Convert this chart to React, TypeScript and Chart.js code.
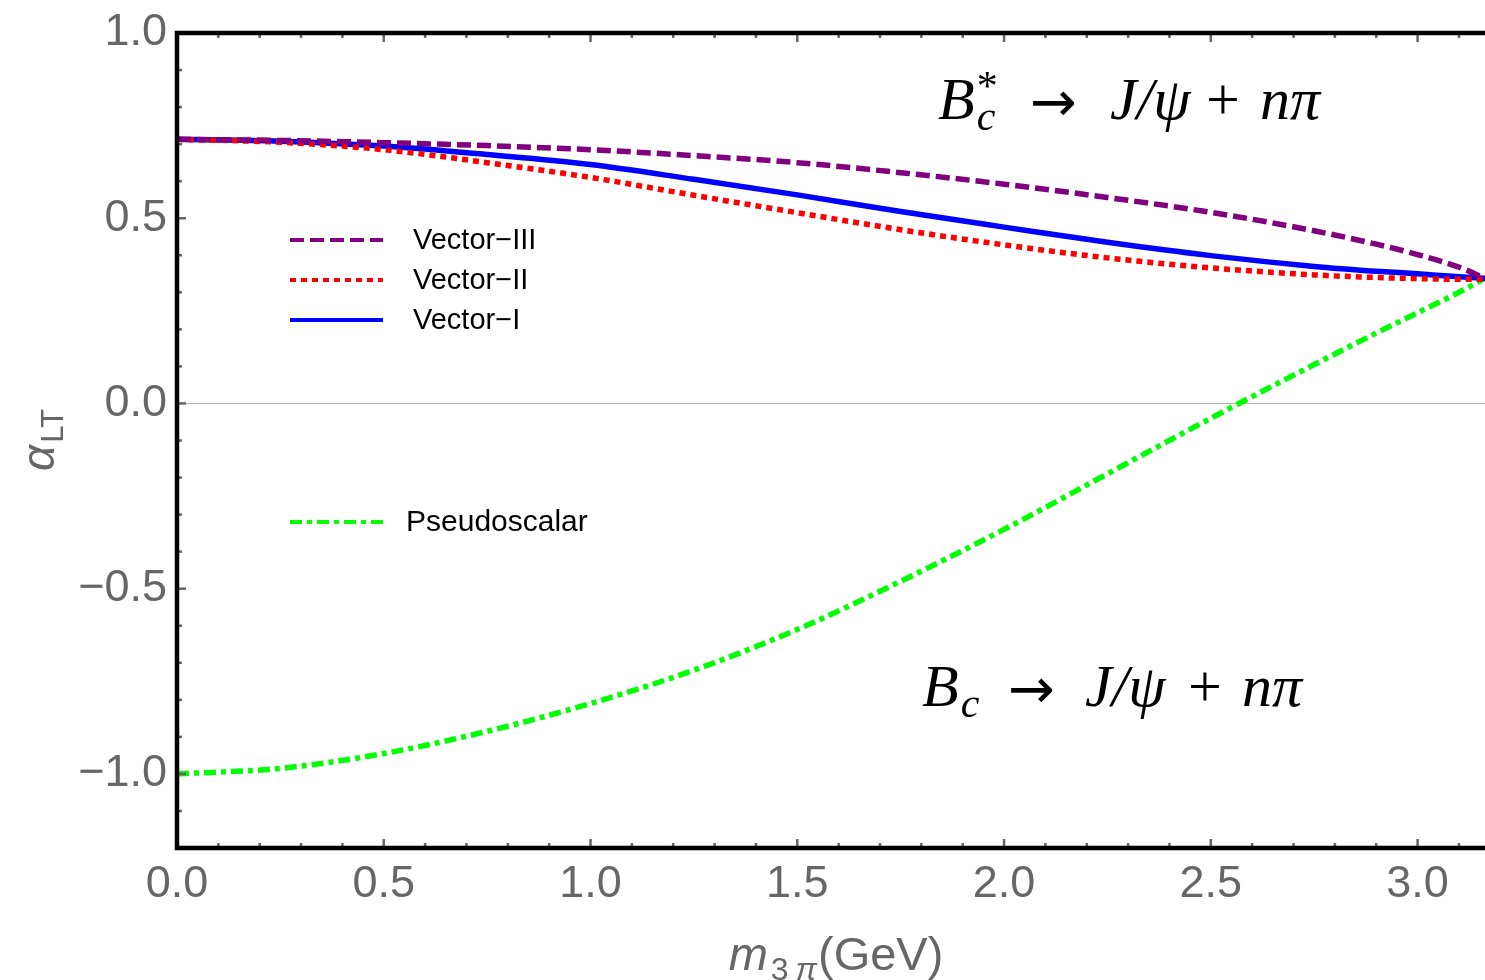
import React, { useEffect, useRef } from 'react';
import { Chart, registerables } from 'chart.js';

Chart.register(...registerables);

// ---------- data ----------
const xValues = [0, 0.25, 0.5, 0.75, 1.0, 1.25, 1.5, 1.75, 2.0, 2.25, 2.5, 2.75, 2.9, 3.0, 3.1, 3.163];
const vectorIII = [0.713, 0.710, 0.704, 0.696, 0.685, 0.669, 0.650, 0.623, 0.592, 0.556, 0.516, 0.466, 0.430, 0.402, 0.368, 0.338];
const vectorII = [0.713, 0.705, 0.685, 0.650, 0.610, 0.562, 0.515, 0.469, 0.428, 0.393, 0.366, 0.347, 0.340, 0.337, 0.335, 0.335];
const vectorI = [0.713, 0.708, 0.695, 0.672, 0.645, 0.605, 0.563, 0.518, 0.476, 0.435, 0.399, 0.370, 0.357, 0.350, 0.342, 0.338];
const pseudoscalar = [-1.0, -0.985, -0.945, -0.885, -0.81, -0.72, -0.61, -0.48, -0.34, -0.19, -0.04, 0.105, 0.190, 0.245, 0.300, 0.338];

const seriesNames = ['Vector\u2212III', 'Vector\u2212II', 'Vector\u2212I', 'Pseudoscalar'];
const xTicks = [0, 0.5, 1.0, 1.5, 2.0, 2.5, 3.0];
const yTicks = [-1.0, -0.5, 0, 0.5, 1.0];
const xMin = 0;
const xMax = 3.163;
const yMin = -1.2;
const yMax = 1.0;

const GRAY = '#666666';
const SANS = '"Liberation Sans", Arial, sans-serif';
const SERIF = '"Liberation Serif", "DejaVu Serif", serif';

type Part = { t: string; f: string; dy?: number; gap?: number; at?: number; same?: boolean };

function layoutParts(ctx: CanvasRenderingContext2D, parts: Part[]) {
  let cursor = 0;
  let lastX = 0;
  const placed: { p: Part; x: number }[] = [];
  for (const p of parts) {
    ctx.font = p.f;
    const w = ctx.measureText(p.t).width;
    const x = p.same ? lastX : p.at !== undefined ? p.at : cursor + (p.gap || 0);
    placed.push({ p, x });
    lastX = x;
    cursor = Math.max(cursor, x + w);
  }
  return { placed, width: cursor };
}

function drawParts(ctx: CanvasRenderingContext2D, parts: Part[], x: number, y: number, color: string, align: 'left' | 'center' = 'left') {
  const { placed, width } = layoutParts(ctx, parts);
  const x0 = align === 'center' ? x - width / 2 : x;
  ctx.fillStyle = color;
  ctx.textAlign = 'left';
  ctx.textBaseline = 'alphabetic';
  for (const { p, x: px } of placed) {
    ctx.font = p.f;
    ctx.fillText(p.t, x0 + px, y + (p.dy || 0));
  }
}

const decorPlugin = {
  id: 'decor',
  afterDatasetsDraw(chart: any) {
    const { ctx, chartArea: ca, scales } = chart;
    const xs = scales.x;
    const ys = scales.y;
    ctx.save();

    // inner tick marks
    ctx.strokeStyle = GRAY;
    ctx.lineWidth = 2.5;
    ctx.lineCap = 'butt';
    for (let i = 0; i <= Math.floor(xMax * 10); i++) {
      const px = xs.getPixelForValue(i / 10);
      const len = i % 5 === 0 ? 9 : 5;
      ctx.beginPath();
      ctx.moveTo(px, ca.bottom);
      ctx.lineTo(px, ca.bottom - len);
      ctx.moveTo(px, ca.top);
      ctx.lineTo(px, ca.top + len);
      ctx.stroke();
    }
    for (let i = Math.ceil(yMin * 10); i <= Math.floor(yMax * 10); i++) {
      const py = ys.getPixelForValue(i / 10);
      const len = i % 5 === 0 ? 9 : 5;
      ctx.beginPath();
      ctx.moveTo(ca.left, py);
      ctx.lineTo(ca.left + len, py);
      ctx.stroke();
    }

    // frame
    ctx.strokeStyle = '#000';
    ctx.lineWidth = 4.5;
    ctx.beginPath();
    ctx.moveTo(ca.right + 2, ca.top);
    ctx.lineTo(ca.left, ca.top);
    ctx.lineTo(ca.left, ca.bottom);
    ctx.lineTo(ca.right + 2, ca.bottom);
    ctx.stroke();

    // legend
    const legendRows = [
      { y: 240, tx: 413, size: 29 },
      { y: 280, tx: 413, size: 29 },
      { y: 320, tx: 413, size: 29 },
      { y: 522, tx: 406, size: 30 },
    ];
    chart.data.datasets.forEach((ds: any, i: number) => {
      const r = legendRows[i];
      ctx.save();
      ctx.strokeStyle = ds.borderColor;
      ctx.lineWidth = 4;
      ctx.lineCap = 'butt';
      ctx.setLineDash(ds.borderDash || []);
      ctx.beginPath();
      ctx.moveTo(290, r.y);
      ctx.lineTo(383, r.y);
      ctx.stroke();
      ctx.restore();
      ctx.fillStyle = '#000';
      ctx.font = `${r.size}px ${SANS}`;
      ctx.textAlign = 'left';
      ctx.textBaseline = 'middle';
      ctx.fillText(ds.label, r.tx, r.y + 1);
    });

    // annotations
    const S = 60;
    const it = (s: number) => `italic ${s}px ${SERIF}`;
    const rm = (s: number) => `${s}px ${SERIF}`;
    const arrow = `56px "DejaVu Sans", sans-serif`;
    drawParts(ctx, [
      { t: 'B', f: it(S), at: 0 },
      { t: 'c', f: it(42), dy: 11, gap: 2 },
      { t: '*', f: rm(42), dy: -19, same: true },
      { t: '\u2192', f: arrow, at: 92, dy: 2 },
      { t: 'J/\u03c8', f: it(S), at: 172 },
      { t: '+', f: rm(S), at: 268 },
      { t: 'n\u03c0', f: it(S), at: 322 },
    ], 938, 119, '#000');
    drawParts(ctx, [
      { t: 'B', f: it(S), at: 0 },
      { t: 'c', f: it(42), dy: 11, gap: 2 },
      { t: '\u2192', f: arrow, at: 86, dy: 2 },
      { t: 'J/\u03c8', f: it(S), at: 163 },
      { t: '+', f: rm(S), at: 266 },
      { t: 'n\u03c0', f: it(S), at: 320 },
    ], 922, 706, '#000');

    // axis titles
    ctx.save();
    ctx.translate(54, 440);
    ctx.rotate(-Math.PI / 2);
    drawParts(ctx, [
      { t: '\u03b1', f: `italic 46px ${SANS}` },
      { t: 'LT', f: `31px ${SANS}`, dy: 9, gap: 2 },
    ], 0, 0, GRAY, 'center');
    ctx.restore();

    drawParts(ctx, [
      { t: 'm', f: `italic 47px ${SANS}` },
      { t: '3', f: `32px ${SANS}`, dy: 10, gap: 3 },
      { t: '\u03c0', f: `italic 32px ${SANS}`, dy: 10, gap: 7 },
      { t: '(GeV)', f: `47px ${SANS}`, gap: 1 },
    ], 836, 970, GRAY, 'center');

    ctx.restore();
  },
};

function toPoints(ys: number[]) {
  return xValues.map((x, i) => ({ x, y: ys[i] }));
}

export default function App() {
  const canvasRef = useRef<HTMLCanvasElement | null>(null);

  useEffect(() => {
    if (!canvasRef.current) return;
    const fmt = (v: number) => (v < 0 ? '\u2212' + Math.abs(v).toFixed(1) : v.toFixed(1));
    const common = {
      borderWidth: 5.5,
      borderCapStyle: 'butt',
      pointRadius: 0,
      cubicInterpolationMode: 'monotone',
    };
    const chart = new Chart(canvasRef.current, {
      type: 'line',
      data: {
        datasets: [
          { ...common, label: seriesNames[0], data: toPoints(vectorIII), borderColor: '#800080', borderDash: [14, 6] },
          { ...common, label: seriesNames[1], data: toPoints(vectorII), borderColor: '#ff0000', borderDash: [6, 5] },
          { ...common, label: seriesNames[2], data: toPoints(vectorI), borderColor: '#0000ff', borderDash: [] },
          { ...common, label: seriesNames[3], data: toPoints(pseudoscalar), borderColor: '#00ff00', borderDash: [12, 5, 5, 5] },
        ],
      },
      options: {
        animation: false,
        responsive: false,
        maintainAspectRatio: false,
        devicePixelRatio: 1,
        layout: { padding: { top: 33, right: 0, left: 0, bottom: 0 } },
        plugins: {
          legend: { display: false },
          tooltip: { enabled: false },
          title: { display: false },
        },
        scales: {
          x: {
            type: 'linear',
            min: xMin,
            max: xMax,
            border: { display: false },
            grid: { display: false, drawTicks: false },
            afterFit: (scale: any) => { scale.height = 132; },
            afterBuildTicks: (scale: any) => { scale.ticks = xTicks.map((v) => ({ value: v })); },
            ticks: {
              color: GRAY,
              padding: 14,
              maxRotation: 0,
              autoSkip: false,
              font: { family: SANS, size: 45, lineHeight: 1 },
              callback: (v: any) => fmt(Number(v)),
            },
          },
          y: {
            type: 'linear',
            min: yMin,
            max: yMax,
            border: { display: false },
            grid: {
              drawTicks: false,
              lineWidth: 1,
              color: (c: any) => (c.tick && c.tick.value === 0 ? '#b4b4b4' : 'rgba(0,0,0,0)'),
            },
            afterFit: (scale: any) => { scale.width = 177; },
            afterBuildTicks: (scale: any) => { scale.ticks = yTicks.map((v) => ({ value: v })); },
            ticks: {
              color: GRAY,
              padding: 10,
              autoSkip: false,
              font: { family: SANS, size: 45, lineHeight: 1 },
              callback: (v: any) => fmt(Number(v)),
            },
          },
        },
      },
      plugins: [decorPlugin],
    } as any);
    return () => chart.destroy();
  }, []);

  return (
    <div style={{ position: 'absolute', left: 0, top: 0, width: 1485, height: 980, background: '#fff' }}>
      <canvas ref={canvasRef} width={1485} height={980} />
    </div>
  );
}
